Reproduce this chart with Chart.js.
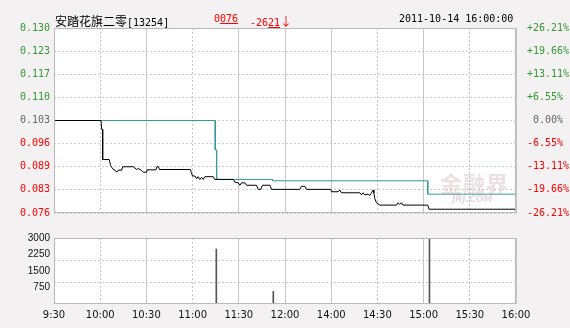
<!DOCTYPE html>
<html>
<head>
<meta charset="utf-8">
<script src="https://cdn.jsdelivr.net/npm/chart.js@4.4.0/dist/chart.umd.min.js"></script>
<style>
html, body { margin: 0; padding: 0; background: #f3f1f1; }
#wrap { position: relative; width: 570px; height: 328px; overflow: hidden; }
#main { position: absolute; left: 0; top: 0; }
#vol { position: absolute; left: 0; top: 225px; }
.hd { position: absolute; top: 12px; font: 10px "DejaVu Sans Mono", monospace; line-height: 14px; white-space: nowrap; color: #000; }
.cn { font: 12px "Noto Sans CJK SC", sans-serif; }
.red { color: #f00; }
.wm { position: absolute; left: 440px; top: 166px; font: bold 22px "Noto Sans CJK SC", sans-serif; color: rgba(200,170,170,0.35); letter-spacing: 1px; }
.wm2 { position: absolute; left: 452px; top: 194px; font: italic bold 9px "DejaVu Sans", sans-serif; color: rgba(200,170,170,0.45); }
</style>
</head>
<body>
<div id="wrap">
  <canvas id="main" width="570" height="230"></canvas>
  <canvas id="vol" width="570" height="103"></canvas>
  <span class="hd" style="left:55px"><span class="cn">安踏花旗二零</span>[13254]</span>
  <span class="hd red" style="left:214px">0<u>076</u></span>
  <span class="hd red" style="left:250px">-26<u>21</u><span class="cn">↓</span></span>
  <span class="hd" style="left:399px">2011-10-14 16:00:00</span>
  <div class="wm">金融界</div>
  <div class="wm2">JRJ.COM</div>
</div>
<script>
// time axis: minutes of trading from 9:30, one slot of 30 per label
const timeLabels = ['9:30', '10:00', '10:30', '11:00', '11:30', '12:00', '14:00', '14:30', '15:00', '15:30', '16:00'];
const dashedSlots = [1, 3, 7, 9];

const priceTicks = [0.076, 0.08275, 0.0895, 0.09625, 0.103, 0.10975, 0.1165, 0.12325, 0.130];
const priceLabels = ['0.076', '0.083', '0.089', '0.096', '0.103', '0.110', '0.117', '0.123', '0.130'];
const pctLabels = ['-26.21%', '-19.66%', '-13.11%', '-6.55%', ' 0.00%', '+6.55%', '+13.11%', '+19.66%', '+26.21%'];

// price line
const priceTimes = [0, 30.5, 31, 31.6, 31.6, 35.9, 36.7, 38.1, 39.6, 40.7, 41.7, 43.9, 44.6, 51.5, 52.6, 53.7, 54.7, 56.9, 58, 60.2,
    60.5, 66.2, 66.8, 67.8, 68.5, 88.7, 89.1, 90, 91.5, 92.6, 93.6, 94.7, 95.8, 96.9, 98, 103.4, 104.3, 116.4, 117.5, 119.6,
    120.7, 121.8, 123.9, 125, 131.5, 132.6, 134.3, 135.4, 140.2, 141.3, 159.6, 160.7, 162.9, 164, 179.8, 180.2, 184.5, 185.6, 186.7, 198.6,
    199.7, 200.7, 201.8, 204, 205, 206.2, 207.2, 207.7, 208.3, 209.4, 211.6, 222.4, 223.4, 224.5, 225.6, 226.7, 242.7, 243.5, 300];
const priceValues = [0.103, 0.103, 0.1004, 0.1004, 0.0916, 0.0916, 0.0899, 0.0889, 0.0885, 0.0879, 0.0885, 0.0885, 0.0895, 0.0895, 0.0891, 0.0887, 0.089, 0.0884, 0.0879, 0.0879,
    0.0886, 0.0886, 0.0895, 0.0895, 0.0887, 0.0887, 0.0878, 0.0868, 0.0868, 0.086, 0.0866, 0.0858, 0.0864, 0.0858, 0.0866, 0.0866, 0.0858, 0.0858, 0.085, 0.0848,
    0.0841, 0.0848, 0.0848, 0.0841, 0.0841, 0.0829, 0.0829, 0.0841, 0.0841, 0.0829, 0.0829, 0.0838, 0.0838, 0.0829, 0.0829, 0.0822, 0.0822, 0.0827, 0.0819, 0.0819,
    0.0813, 0.0819, 0.0813, 0.0815, 0.0811, 0.0819, 0.0827, 0.0819, 0.0802, 0.079, 0.0783, 0.0783, 0.079, 0.0785, 0.079, 0.0783, 0.0783, 0.0771, 0.0771];

// average price line
const avgTimes = [30.5, 104.7, 104.7, 105.6, 105.6, 141.9, 141.9, 242.7, 242.7, 300];
const avgValues = [0.103, 0.103, 0.0944, 0.0944, 0.0858, 0.0858, 0.0854, 0.0854, 0.0815, 0.0815];

// volume
const volTimes = [105.4, 142.4, 243.8];
const volValues = [2500, 570, 3000];
const volTicks = [0, 750, 1000, 1500, 2000, 2250, 3000];
const volLabelled = [750, 1500, 2250, 3000];
const volGridAt = [1000, 2000];

const pts = (xs, ys) => xs.map((x, i) => ({x: x, y: ys[i]}));
const timeTicks = timeLabels.map((l, i) => ({value: i * 30}));

const frame = {
    id: 'frame',
    beforeDraw(c) {
        const a = c.chartArea, g = c.ctx;
        g.save();
        g.fillStyle = '#fff';
        g.fillRect(a.left, a.top, a.right - a.left, a.bottom - a.top);
        g.restore();
    },
    afterDraw(c) {
        const a = c.chartArea, g = c.ctx;
        g.save();
        g.strokeStyle = '#b9b9b9';
        g.lineWidth = 1;
        g.strokeRect(Math.round(a.left) + 0.5, Math.round(a.top) + 0.5, Math.round(a.right - a.left) - 1, Math.round(a.bottom - a.top) - 1);
        g.restore();
    }
};

const tickFont = {family: 'DejaVu Sans Mono', size: 10};
const priceColor = ctx => ctx.index < 4 ? '#ff0000' : (ctx.index === 4 ? '#666666' : '#339933');

const xAxis = hidden => ({
    type: 'linear', min: 0, max: 300, offset: false,
    afterBuildTicks: s => { s.ticks = timeTicks.map(t => ({value: t.value})); },
    ticks: {display: !hidden, autoSkip: false, maxRotation: 0, padding: 5,
        callback: v => timeLabels[Math.round(v / 30)],
        color: '#111', font: {family: 'DejaVu Sans', size: 10}},
    grid: {color: '#c6c6c6', drawTicks: false, offset: false},
    border: {display: false, dash: ctx => dashedSlots.includes(ctx.index) ? [2, 2] : []}
});

new Chart(document.getElementById('main'), {
    type: 'line',
    data: {
        datasets: [
            {data: pts(priceTimes, priceValues), borderColor: '#000', borderWidth: 1, pointRadius: 0, tension: 0},
            {data: pts(avgTimes, avgValues), borderColor: '#339999', borderWidth: 1, pointRadius: 0, tension: 0}
        ]
    },
    options: {
        responsive: false, animation: false, events: [],
        layout: {padding: {top: 28, bottom: 17, left: 0, right: 0}},
        plugins: {legend: {display: false}, tooltip: {enabled: false}},
        scales: {
            x: Object.assign(xAxis(true), {afterFit: s => { s.height = 0; }}),
            y: {
                position: 'left', min: 0.076, max: 0.130,
                afterBuildTicks: s => { s.ticks = priceTicks.map(v => ({value: v})); },
                afterFit: s => { s.width = 54; },
                ticks: {autoSkip: false, callback: (v, i) => priceLabels[i], color: priceColor, font: tickFont, padding: 4},
                grid: {color: '#cccccc', drawTicks: false},
                border: {display: false, dash: [2, 2]}
            },
            y2: {
                position: 'right', min: 0.076, max: 0.130,
                afterBuildTicks: s => { s.ticks = priceTicks.map(v => ({value: v})); },
                afterFit: s => { s.width = 54; },
                ticks: {autoSkip: false, callback: (v, i) => pctLabels[i], color: priceColor, font: tickFont, padding: 3},
                grid: {display: false},
                border: {display: false}
            }
        }
    },
    plugins: [frame]
});

new Chart(document.getElementById('vol'), {
    type: 'bar',
    data: {
        datasets: [{data: pts(volTimes, volValues), backgroundColor: '#555', barThickness: 1}]
    },
    options: {
        responsive: false, animation: false, events: [],
        layout: {padding: {top: 13, bottom: 0, left: 0, right: 54}},
        plugins: {legend: {display: false}, tooltip: {enabled: false}},
        scales: {
            x: Object.assign(xAxis(false), {afterFit: s => { s.height = 24; }}),
            y: {
                position: 'left', min: 0, max: 3000,
                afterBuildTicks: s => { s.ticks = volTicks.map(v => ({value: v})); },
                afterFit: s => { s.width = 54; },
                ticks: {autoSkip: false, callback: v => volLabelled.includes(v) ? String(v) : '', color: '#111',
                    font: {family: 'Liberation Sans', size: 10}, padding: 4},
                grid: {color: ctx => volGridAt.includes(ctx.tick && ctx.tick.value) ? '#cccccc' : 'rgba(0,0,0,0)', drawTicks: false},
                border: {display: false, dash: [2, 2]}
            }
        }
    },
    plugins: [frame]
});
</script>
</body>
</html>
